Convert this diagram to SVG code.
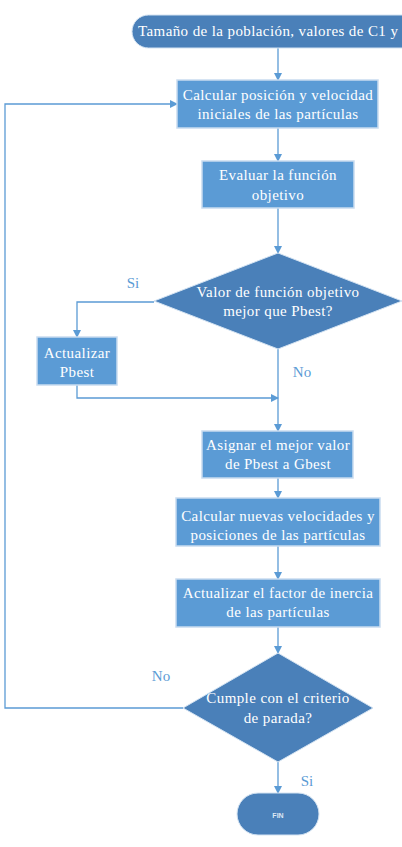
<svg xmlns="http://www.w3.org/2000/svg" width="402" height="847" viewBox="0 0 402 847">
<defs>
<marker id="ah" markerWidth="8" markerHeight="8" refX="7" refY="4" orient="auto" markerUnits="userSpaceOnUse">
<path d="M0,0 L8,4 L0,8 Z" fill="#5b9bd5"/>
</marker>
</defs>
<style>
.box{fill:#5b9bd5;stroke:#c9dcef;stroke-width:1.5}
.dark{fill:#4a80b9;stroke:#d4e3f2;stroke-width:1}
.t{font-family:"Liberation Serif",serif;font-size:15px;letter-spacing:0.4px;fill:#ffffff;text-anchor:middle}
.lbl{font-family:"Liberation Serif",serif;font-size:15px;fill:#5b9bd5;text-anchor:middle}
.c{fill:none;stroke:#5b9bd5;stroke-width:1.3}
.ca{fill:none;stroke:#5b9bd5;stroke-width:1.3;marker-end:url(#ah)}
</style>
<rect width="402" height="847" fill="#ffffff"/>
<g id="connectors">
<path class="ca" d="M278,48 V80"/>
<path class="ca" d="M278,128 V161"/>
<path class="ca" d="M278,208 V253"/>
<path class="ca" d="M154,302 H77 V337"/>
<path class="ca" d="M77,385 V398 H278"/>
<path class="ca" d="M278,349 V431"/>
<path class="ca" d="M278,478 V498"/>
<path class="ca" d="M278,546 V579"/>
<path class="ca" d="M278,627 V653"/>
<path class="ca" d="M183,708 H5 V104 H177"/>
<path class="ca" d="M278,762 V793"/>
<text class="lbl" x="133" y="288">Si</text>
<text class="lbl" x="302" y="377">No</text>
<text class="lbl" x="161" y="681">No</text>
<text class="lbl" x="307" y="786">Si</text>
</g>
<g id="start">
<rect class="dark" x="132" y="15" width="300" height="33" rx="16.5"/>
<text class="t" x="138" y="36" style="text-anchor:start">Tamaño de la población, valores de C1 y C2</text>
</g>
<g id="init">
<rect class="box" x="177" y="80" width="201" height="48"/>
<text class="t" x="278" y="100">Calcular posición y velocidad</text>
<text class="t" x="278" y="119">iniciales de las partículas</text>
</g>
<g id="eval">
<rect class="box" x="202" y="161" width="152" height="47"/>
<text class="t" x="278" y="180">Evaluar la función</text>
<text class="t" x="278" y="200">objetivo</text>
</g>
<g id="dec1">
<polygon class="dark" points="278,253 402,301 278,349 154,301"/>
<text class="t" x="278" y="297">Valor de función objetivo</text>
<text class="t" x="278" y="316">mejor que Pbest?</text>
</g>
<g id="pbest">
<rect class="box" x="37" y="337" width="80" height="48"/>
<text class="t" x="77" y="358">Actualizar</text>
<text class="t" x="77" y="377">Pbest</text>
</g>
<g id="gbest">
<rect class="box" x="202" y="431" width="151" height="47"/>
<text class="t" x="278" y="450">Asignar el mejor valor</text>
<text class="t" x="278" y="469">de Pbest a Gbest</text>
</g>
<g id="update">
<rect class="box" x="176" y="498" width="204" height="48"/>
<text class="t" x="278" y="521">Calcular nuevas velocidades y</text>
<text class="t" x="278" y="540">posiciones de las partículas</text>
</g>
<g id="inertia">
<rect class="box" x="176" y="579" width="204" height="48"/>
<text class="t" x="278" y="598">Actualizar el factor de inercia</text>
<text class="t" x="278" y="617">de las partículas</text>
</g>
<g id="dec2">
<polygon class="dark" points="278,653 373,708 278,762 183,708"/>
<text class="t" x="278" y="703">Cumple con el criterio</text>
<text class="t" x="278" y="723">de parada?</text>
</g>
<g id="fin">
<rect class="dark" x="237" y="793" width="82" height="42" rx="21"/>
<text x="278" y="818" style="font-family:'Liberation Sans',sans-serif;font-size:7px;font-weight:bold;fill:#dde8f4;text-anchor:middle">FIN</text>
</g>
</svg>
